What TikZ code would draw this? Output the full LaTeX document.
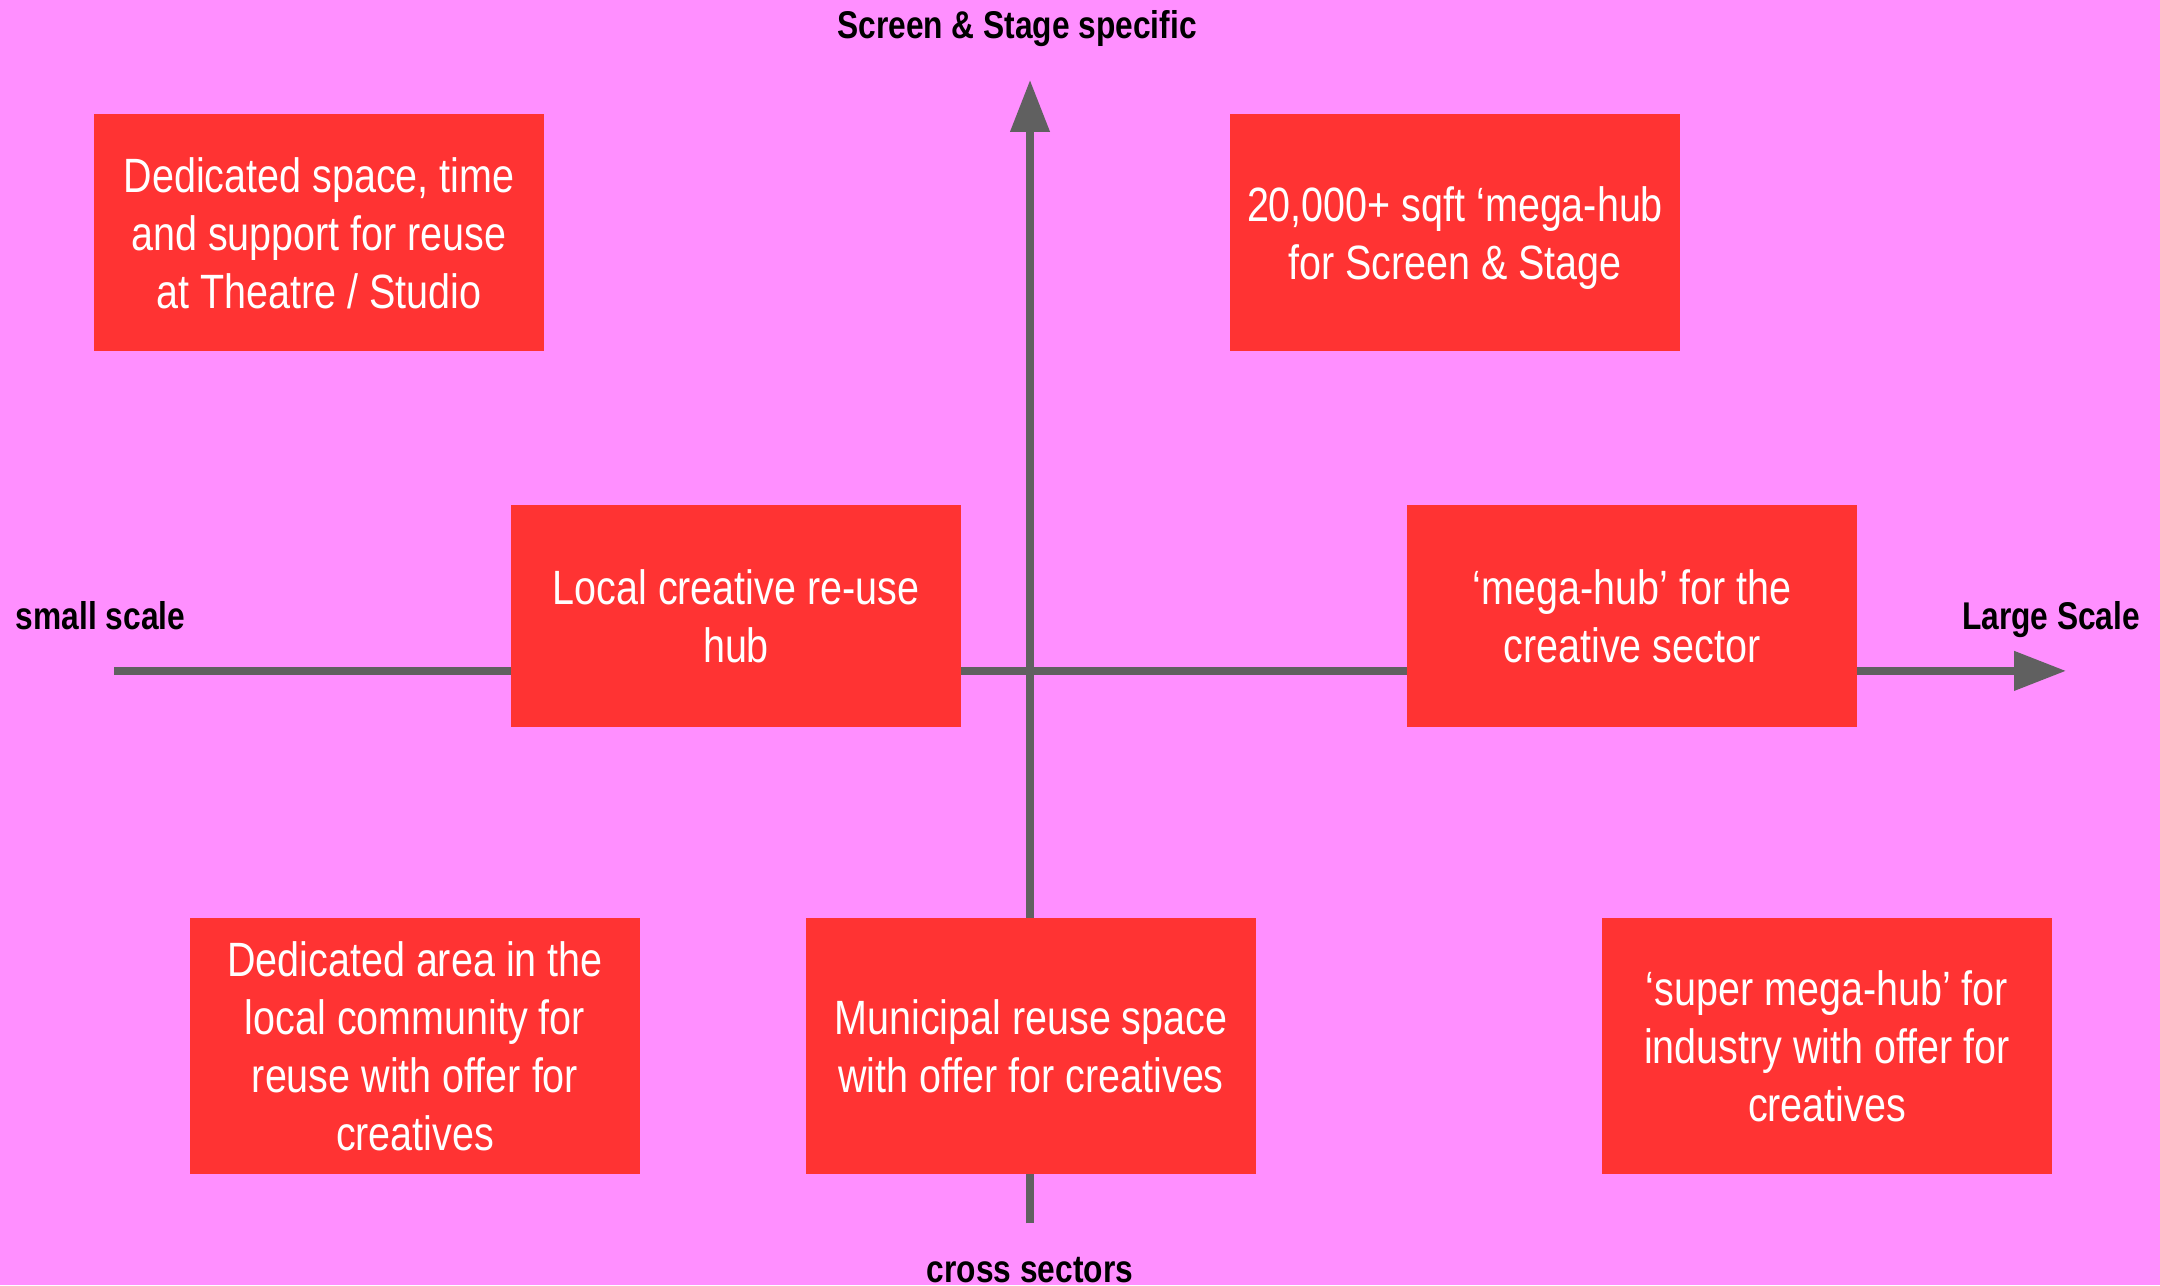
\documentclass[tikz,border=0pt]{standalone}
\usepackage{fontspec}
\setmainfont[FakeStretch=0.82]{Liberation Sans}
\usetikzlibrary{arrows.meta}
\definecolor{bgpink}{RGB}{255,143,255}
\definecolor{boxred}{RGB}{255,51,51}
\definecolor{axisgrey}{RGB}{96,96,96}
\tikzset{
  hub/.style={fill=boxred, text=white, minimum width=4.5cm, align=center, inner sep=0pt,
    text depth=0pt, font=\fontsize{13.7}{16.5}\selectfont},
  axislabel/.style={font=\fontsize{11}{13}\selectfont\bfseries, anchor=base},
  axisline/.style={axisgrey, line width=0.075cm, -{Triangle[length=0.52cm,width=0.38cm]}}
}

\begin{document}
\begin{tikzpicture}
    \fill[bgpink] (0,0) rectangle (21.6,12.85);
    \useasboundingbox (0,0) rectangle (21.6,12.85);
    % axes
    \coordinate (scaleStart) at (1.14,6.141);
    \coordinate (scaleEnd) at (20.66,6.141);
    \coordinate (sectorStart) at (10.30,0.617);
    \coordinate (sectorEnd) at (10.30,12.05);
    \draw[axisline] (scaleStart) -- (scaleEnd);
    \draw[axisline] (sectorStart) -- (sectorEnd);
    % hubs
    \node[hub, minimum height=2.37cm] (theatre) at (3.19,10.52) {Dedicated space, time\\and support for reuse\\at Theatre / Studio};
    \node[hub, minimum height=2.37cm] (screen) at (14.55,10.52) {20,000+ sqft ‘mega-hub\\for Screen \& Stage};
    \node[hub, minimum height=2.22cm] (local) at (7.36,6.685) {Local creative re-use\\hub};
    \node[hub, minimum height=2.22cm] (mega) at (16.32,6.685) {‘mega-hub’ for the\\creative sector};
    \node[hub, minimum height=2.56cm] (community) at (4.15,2.394) {Dedicated area in the\\local community for\\reuse with offer for\\creatives};
    \node[hub, minimum height=2.56cm] (municipal) at (10.31,2.394) {Municipal reuse space\\with offer for creatives};
    \node[hub, minimum height=2.56cm] (supermega) at (18.27,2.394) {‘super mega-hub’ for\\industry with offer for\\creatives};
    % axis labels
    \node[axislabel] (specific) at (10.17,12.464) {Screen \& Stage specific};
    \node[axislabel] (small) at (1.006,6.554) {small scale};
    \node[axislabel] (large) at (20.51,6.554) {Large Scale};
    \node[axislabel] (cross) at (10.30,0.03) {cross sectors};
\end{tikzpicture}
\end{document}
